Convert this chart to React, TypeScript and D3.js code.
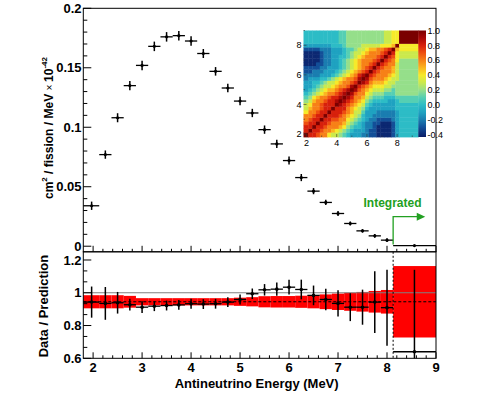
import { useEffect, useRef } from "react";
import * as d3 from "d3";

const W = 498;
const H = 393;

// energy bins (MeV); last bin is the integrated one above 8.125 MeV
const binCenters = [1.97, 2.25, 2.5, 2.75, 3, 3.25, 3.5, 3.75, 4, 4.25, 4.5, 4.75, 5, 5.25, 5.5, 5.75, 6, 6.25, 6.5, 6.75, 7, 7.25, 7.5, 7.75, 8, 8.56];
const binEdges = [1.8, 2.125, 2.375, 2.625, 2.875, 3.125, 3.375, 3.625, 3.875, 4.125, 4.375, 4.625, 4.875, 5.125, 5.375, 5.625, 5.875, 6.125, 6.375, 6.625, 6.875, 7.125, 7.375, 7.625, 7.875, 8.125, 9];

// unfolded spectrum, cm^2 / fission / MeV x 1e-42
const spectrum = [0.034, 0.077, 0.108, 0.135, 0.152, 0.168, 0.176, 0.177, 0.1725, 0.162, 0.147, 0.133, 0.122, 0.112, 0.098, 0.086, 0.072, 0.0577, 0.0463, 0.0368, 0.0275, 0.0191, 0.0129, 0.0087, 0.0051, 0.0005];
const spectrumErr = [0.0035, 0.0035, 0.0038, 0.0038, 0.004, 0.004, 0.004, 0.004, 0.004, 0.0038, 0.0036, 0.0036, 0.0036, 0.0035, 0.0035, 0.0035, 0.0034, 0.003, 0.0026, 0.0022, 0.002, 0.0017, 0.0015, 0.0015, 0.0015, 0.0003];

// data / prediction
const ratio = [0.943, 0.935, 0.939, 0.927, 0.912, 0.918, 0.922, 0.926, 0.933, 0.931, 0.933, 0.943, 0.959, 0.994, 1.018, 1.022, 1.034, 1.02, 0.984, 0.959, 0.935, 0.912, 0.912, 0.943, 0.909, 0.64];
const ratioErr = [0.095, 0.1, 0.066, 0.036, 0.036, 0.03, 0.03, 0.03, 0.03, 0.03, 0.03, 0.03, 0.03, 0.032, 0.035, 0.04, 0.045, 0.06, 0.06, 0.066, 0.08, 0.085, 0.107, 0.188, 0.232, 0.5];
const fitNorm = 0.945;
const bandHalf = [0.04, 0.04, 0.04, 0.036, 0.022, 0.022, 0.022, 0.022, 0.022, 0.022, 0.022, 0.022, 0.025, 0.028, 0.034, 0.035, 0.035, 0.037, 0.04, 0.045, 0.05, 0.055, 0.06, 0.066, 0.072, 0.218];

// correlation matrix, lower triangle; a=-0.4 ... o=1.0 in steps of 0.1
const corrLevels = "abcdefghijklmno";
const corrRows = [
  "o",
  "mo",
  "mmo",
  "lmmo",
  "klmmo",
  "kklmmo",
  "ikklmmo",
  "hjkklmmo",
  "hikklmmmo",
  "ghjkklmmno",
  "fgijkklmmno",
  "efghijkklmno",
  "defghijjklmno",
  "ddefghhijkklno",
  "ddeefghhijkklmo",
  "cdddeefghijkklno",
  "ccccdddefghijkmno",
  "bbcccdddefghijklmo",
  "bbbbccdddefghijklmo",
  "aaabbccddefghijkklmo",
  "aaaabccddefghijkkklmo",
  "aaaabccddeefghijkkklmo",
  "aaaabccdddefghhijkkklmo",
  "bbbbcccdddeffghhijjkklmo",
  "dddddddeeefgggghhhhhiiijo",
  "eeeeeeeeeffgggggggggghhiio",
];

const topTicks = [0, 0.05, 0.1, 0.15, 0.2];
const topTickLabels = ["0", "0.05", "0.1", "0.15", "0.2"];
const botTicks = [0.6, 0.8, 1.0, 1.2];
const botTickLabels = ["0.6", "0.8", "1", "1.2"];
const xTicks = [2, 3, 4, 5, 6, 7, 8, 9];
const corrAxisTicks = [2, 4, 6, 8];
const paletteTicks = [1.0, 0.8, 0.6, 0.4, 0.2, 0.0, -0.2, -0.4];
const paletteLabels = ["1.0", "0.8", "0.6", "0.4", "0.2", "0.0", "-0.2", "-0.4"];

const paletteStops = [-0.43, -0.3, -0.2, -0.1, 0.0, 0.1, 0.2, 0.3, 0.4, 0.5, 0.6, 0.7, 0.8, 0.9, 1.0];
const paletteColors = ["#0a1c66", "#134f98", "#1a7db0", "#1fa2c1", "#2dbcc6", "#55cfb3", "#95df8a", "#cbe94c", "#f6ea2a", "#fbb61f", "#f78117", "#ee4e10", "#d7200c", "#a90806", "#7a0000"];

const FONT = "'Liberation Sans', Arial, Helvetica, sans-serif";

const App = () => {
  const svgRef = useRef<SVGSVGElement>(null);

  useEffect(() => {
    const svg = d3.select(svgRef.current);
    svg.selectAll("*").remove();
    svg.attr("font-family", FONT);

    const left = 83.3, right = 436, top = 8.3, mid = 251.8, bottom = 358.3;

    const x = d3.scaleLinear().domain([1.8, 9]).range([left, right]);
    const yTop = d3.scaleLinear().domain([-0.0047, 0.2]).range([mid, top]);
    const yBot = d3.scaleLinear().domain([0.6, 1.25]).range([bottom, mid]);
    const color = d3.scaleLinear<string>().domain(paletteStops).range(paletteColors).clamp(true);

    const n = binCenters.length;
    const idx = d3.range(n);

    // ---------- bottom panel: band ----------
    const gb = svg.append("g");
    gb.selectAll("rect.band")
      .data(idx)
      .join("rect")
      .attr("x", i => x(binEdges[i]))
      .attr("width", i => x(binEdges[i + 1]) - x(binEdges[i]))
      .attr("y", i => yBot(fitNorm + bandHalf[i]))
      .attr("height", i => yBot(fitNorm - bandHalf[i]) - yBot(fitNorm + bandHalf[i]))
      .attr("fill", "#ff0000");

    gb.append("line")
      .attr("x1", left).attr("x2", right)
      .attr("y1", yBot(1)).attr("y2", yBot(1))
      .attr("stroke", "#808080").attr("stroke-width", 1);

    gb.append("line")
      .attr("x1", left).attr("x2", right)
      .attr("y1", yBot(fitNorm)).attr("y2", yBot(fitNorm))
      .attr("stroke", "#000").attr("stroke-width", 1)
      .attr("stroke-dasharray", "3,2");

    gb.append("line")
      .attr("x1", x(binEdges[n - 1])).attr("x2", x(binEdges[n - 1]))
      .attr("y1", mid).attr("y2", bottom)
      .attr("stroke", "#000").attr("stroke-width", 1)
      .attr("stroke-dasharray", "2,2");

    const clipY = (v: number) => Math.max(0.6, Math.min(1.25, v));

    // ratio points
    gb.selectAll("line.rh")
      .data(idx)
      .join("line")
      .attr("x1", i => x(binEdges[i])).attr("x2", i => x(binEdges[i + 1]))
      .attr("y1", i => yBot(ratio[i])).attr("y2", i => yBot(ratio[i]))
      .attr("stroke", "#000").attr("stroke-width", 1.3);
    gb.selectAll("line.rv")
      .data(idx)
      .join("line")
      .attr("x1", i => x(binCenters[i])).attr("x2", i => x(binCenters[i]))
      .attr("y1", i => yBot(clipY(ratio[i] + ratioErr[i])))
      .attr("y2", i => yBot(clipY(ratio[i] - ratioErr[i])))
      .attr("stroke", "#000").attr("stroke-width", 1.5);
    gb.selectAll("circle")
      .data(idx)
      .join("circle")
      .attr("cx", i => x(binCenters[i])).attr("cy", i => yBot(ratio[i]))
      .attr("r", 1.8).attr("fill", "#000");

    // ---------- top panel ----------
    const gt = svg.append("g");
    gt.selectAll("line.sh")
      .data(idx)
      .join("line")
      .attr("x1", i => x(binEdges[i])).attr("x2", i => x(binEdges[i + 1]))
      .attr("y1", i => yTop(spectrum[i])).attr("y2", i => yTop(spectrum[i]))
      .attr("stroke", "#000").attr("stroke-width", 1.3);
    gt.selectAll("line.sv")
      .data(idx)
      .join("line")
      .attr("x1", i => x(binCenters[i])).attr("x2", i => x(binCenters[i]))
      .attr("y1", i => yTop(spectrum[i] + spectrumErr[i]))
      .attr("y2", i => yTop(spectrum[i] - spectrumErr[i]))
      .attr("stroke", "#000").attr("stroke-width", 1.5);
    gt.selectAll("circle")
      .data(idx)
      .join("circle")
      .attr("cx", i => x(binCenters[i])).attr("cy", i => yTop(spectrum[i]))
      .attr("r", 1.6).attr("fill", "#000");

    // integrated arrow
    const green = "#22a022";
    const ax = x(binEdges[n - 1]);
    const ay = 216.7;
    const tipX = x(8.78);
    gt.append("path")
      .attr("d", `M${ax},${yTop(spectrum[n - 1]) - 1}V${ay}H${tipX - 8}`)
      .attr("fill", "none").attr("stroke", green).attr("stroke-width", 1.3);
    gt.append("path")
      .attr("d", `M${tipX - 8.5},${ay - 4}L${tipX},${ay}L${tipX - 8.5},${ay + 4}Z`)
      .attr("fill", green);
    gt.append("text")
      .attr("x", 363.5).attr("y", 207)
      .attr("font-size", 12).attr("font-weight", "bold")
      .attr("fill", green)
      .text("Integrated");

    // ---------- frames & axes ----------
    const axes = svg.append("g").attr("stroke", "#000").attr("fill", "none");
    axes.append("rect").attr("x", left).attr("y", top).attr("width", right - left).attr("height", mid - top).attr("stroke-width", 1);
    axes.append("rect").attr("x", left).attr("y", mid).attr("width", right - left).attr("height", bottom - mid).attr("stroke-width", 1);

    // x ticks on both panels
    const xMinor = d3.range(2, 9.001, 0.2);
    [mid, bottom].forEach(yb => {
      axes.selectAll(null)
        .data(xMinor)
        .join("line")
        .attr("x1", d => x(d)).attr("x2", d => x(d))
        .attr("y1", yb)
        .attr("y2", d => yb - (Math.abs(d - Math.round(d)) < 1e-6 ? 6 : 3))
        .attr("stroke-width", 1);
    });

    // top y ticks
    const topMinor = d3.range(0, 0.2001, 0.01);
    axes.selectAll(null)
      .data(topMinor)
      .join("line")
      .attr("x1", left)
      .attr("x2", d => left + (Math.abs(d / 0.05 - Math.round(d / 0.05)) < 1e-6 ? 8 : 4))
      .attr("y1", d => yTop(d)).attr("y2", d => yTop(d))
      .attr("stroke-width", 1);

    // bottom y ticks
    const botMinor = d3.range(0.6, 1.25, 0.2 / 3);
    axes.selectAll(null)
      .data(botMinor)
      .join("line")
      .attr("x1", left)
      .attr("x2", (d, i) => left + (i % 3 === 0 ? 8 : 4))
      .attr("y1", d => yBot(d)).attr("y2", d => yBot(d))
      .attr("stroke-width", 1);

    const labels = svg.append("g")
      .attr("font-size", 13).attr("font-weight", "bold").attr("fill", "#000");

    labels.selectAll("text.yt")
      .data(topTicks)
      .join("text")
      .attr("x", 81.5).attr("y", d => yTop(d) + 4.6)
      .attr("text-anchor", "end")
      .text((d, i) => topTickLabels[i]);

    labels.selectAll("text.yb")
      .data(botTicks)
      .join("text")
      .attr("x", 81.5).attr("y", d => yBot(d) + 4.6)
      .attr("text-anchor", "end")
      .text((d, i) => botTickLabels[i]);

    labels.selectAll("text.xt")
      .data(xTicks)
      .join("text")
      .attr("x", d => x(d)).attr("y", 371.5)
      .attr("text-anchor", "middle")
      .text(d => String(d));

    labels.append("text")
      .attr("x", (left + right) / 2 - 3).attr("y", 387.5)
      .attr("text-anchor", "middle")
      .text("Antineutrino Energy (MeV)");

    labels.append("text")
      .attr("transform", `translate(48,${(mid + bottom) / 2 + 1}) rotate(-90)`)
      .attr("text-anchor", "middle")
      .text("Data / Prediction");

    const yl = labels.append("text")
      .attr("transform", `translate(53,128) rotate(-90)`)
      .attr("text-anchor", "middle")
      .attr("font-size", 12);
    yl.append("tspan").text("cm");
    yl.append("tspan").attr("dy", -6).attr("font-size", 8).text("2");
    yl.append("tspan").attr("dy", 6).text(" / fission / MeV ");
    yl.append("tspan").attr("font-weight", "normal").attr("font-size", 10).text("\u00d7 ");
    yl.append("tspan").text("10");
    yl.append("tspan").attr("dy", -6).attr("font-size", 8).text("-42");

    // ---------- correlation matrix inset ----------
    const mx = d3.scaleLinear().domain([1.8, 9.4]).range([303.5, 418.3]);
    const my = d3.scaleLinear().domain([1.8, 9.0]).range([137, 30.5]);
    const cells: { i: number; j: number; v: number }[] = [];
    for (let i = 0; i < n; i++) {
      for (let j = 0; j < n; j++) {
        const ch = j <= i ? corrRows[i][j] : corrRows[j][i];
        cells.push({ i, j, v: -0.4 + 0.1 * corrLevels.indexOf(ch) });
      }
    }
    const xHi = (j: number) => (j === n - 1 ? mx.domain()[1] : binEdges[j + 1]);
    const yHi = (i: number) => (i === n - 1 ? my.domain()[1] : binEdges[i + 1]);
    const gm = svg.append("g");
    gm.selectAll("rect")
      .data(cells)
      .join("rect")
      .attr("x", d => mx(binEdges[d.j]))
      .attr("width", d => mx(xHi(d.j)) - mx(binEdges[d.j]) + 0.4)
      .attr("y", d => my(yHi(d.i)))
      .attr("height", d => my(binEdges[d.i]) - my(yHi(d.i)) + 0.4)
      .attr("fill", d => color(d.v));

    // palette
    const cy = d3.scaleLinear().domain([-0.43, 1.0]).range([my.range()[0], my.range()[1]]);
    const defs = svg.append("defs");
    const grad = defs.append("linearGradient")
      .attr("id", "pal").attr("x1", 0).attr("x2", 0).attr("y1", 1).attr("y2", 0);
    paletteStops.forEach((s, k) => {
      grad.append("stop")
        .attr("offset", (s - cy.domain()[0]) / (cy.domain()[1] - cy.domain()[0]))
        .attr("stop-color", paletteColors[k]);
    });
    gm.append("rect")
      .attr("x", 418.3).attr("width", 7.7)
      .attr("y", cy(1.0)).attr("height", cy(-0.43) - cy(1.0))
      .attr("fill", "url(#pal)");

    const gml = svg.append("g").attr("font-size", 9).attr("fill", "#000");
    gml.selectAll("text.pt")
      .data(paletteTicks)
      .join("text")
      .attr("x", 427.5).attr("y", d => cy(d) + 3.2)
      .text((d, i) => paletteLabels[i]);
    gml.selectAll("text.mxl")
      .data(corrAxisTicks)
      .join("text")
      .attr("x", d => mx(d)).attr("y", 146)
      .attr("text-anchor", "middle")
      .text(d => String(d));
    gml.selectAll("text.myl")
      .data(corrAxisTicks)
      .join("text")
      .attr("x", 301.5).attr("y", d => my(d) + 3.2)
      .attr("text-anchor", "end")
      .text(d => String(d));

    const mAxes = svg.append("g").attr("stroke", "#333").attr("stroke-width", 0.6);
    mAxes.selectAll("line.mxt")
      .data(d3.range(2, 9.01, 1))
      .join("line")
      .attr("x1", d => mx(d)).attr("x2", d => mx(d))
      .attr("y1", my.range()[0]).attr("y2", d => my.range()[0] - (d % 2 === 0 ? 3 : 1.5));
    mAxes.selectAll("line.myt")
      .data(d3.range(2, 9.01, 1))
      .join("line")
      .attr("y1", d => my(d)).attr("y2", d => my(d))
      .attr("x1", mx.range()[0]).attr("x2", d => mx.range()[0] + (d % 2 === 0 ? 3 : 1.5));

    return () => {
      svg.selectAll("*").remove();
    };
  }, []);

  return (
    <svg
      ref={svgRef}
      width={W}
      height={H}
      style={{ position: "absolute", left: 0, top: 0, background: "#fff" }}
    />
  );
};

export default App;
